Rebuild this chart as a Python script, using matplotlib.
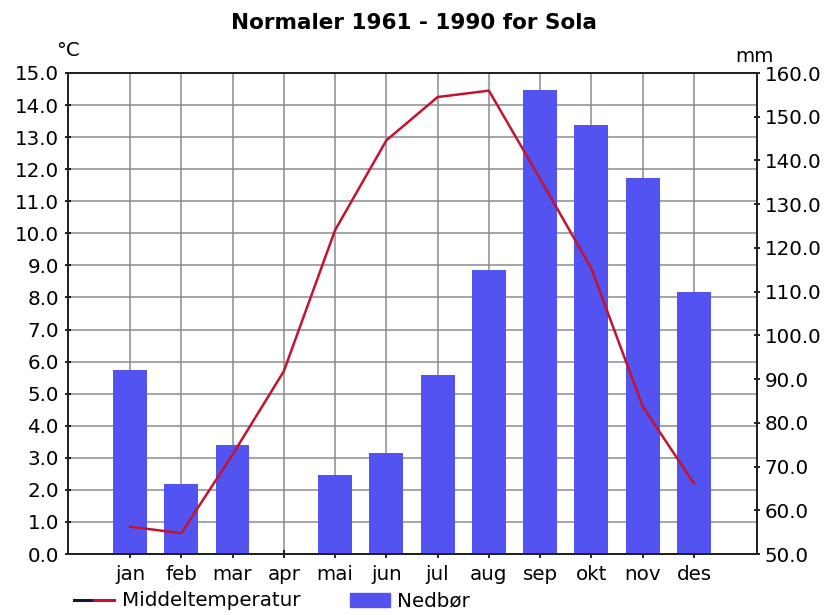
import numpy as np
import matplotlib
matplotlib.use("Agg")
import matplotlib.pyplot as plt
from matplotlib.lines import Line2D
from matplotlib.patches import Patch
from matplotlib.legend_handler import HandlerTuple

# Normaler 1961-1990, Sola
maaneder = ["jan", "feb", "mar", "apr", "mai", "jun", "jul", "aug", "sep", "okt", "nov", "des"]
temperatur = [0.85, 0.65, 3.1, 5.7, 10.1, 12.9, 14.25, 14.45, 11.7, 8.9, 4.6, 2.2]  # °C
nedbor = [92, 66, 75, 49, 68, 73, 91, 115, 156, 148, 136, 110]  # mm

temp_ticks = np.arange(0, 16, 1)
mm_ticks = np.arange(50, 161, 10)

plt.rcParams['font.family'] = 'DejaVu Sans'
fs = 14.3
bar_color = '#5253f0'
line_color = '#c2142e'
grid_color = '#8c8c8c'

fig = plt.figure(figsize=(8.28, 6.15), dpi=100)
ax = fig.add_axes([68 / 828, 61 / 615, 689 / 828, 481 / 615])
x = np.arange(len(maaneder))

# venstre akse: temperatur + rutenett
ax.set_xlim(-1.21, 12.23)
ax.set_ylim(0, 15)
ax.set_yticks(temp_ticks)
ax.set_yticklabels([f"{v:.1f}" for v in temp_ticks])
ax.set_xticks(x)
ax.set_xticklabels(maaneder)
ax.grid(True, color=grid_color, lw=1.1)
ax.set_axisbelow(True)
ax.tick_params(axis='y', direction='inout', length=5, width=1.2, pad=4, labelsize=fs)
ax.tick_params(axis='x', direction='inout', length=6, width=1.2, pad=5, labelsize=fs)

# høyre akse: nedbør
ax2 = ax.twinx()
ax2.bar(x, nedbor, width=0.66, color=bar_color, zorder=2)
ax2.set_ylim(50, 160)
ax2.set_yticks(mm_ticks)
ax2.set_yticklabels([f"{v:.1f}" for v in mm_ticks])
ax2.tick_params(axis='y', direction='inout', length=5, width=1.2, pad=3, labelsize=fs)

# temperaturlinje over søylene
ax3 = ax.twinx()
ax3.plot(x, temperatur, color=line_color, lw=1.8)
ax3.set_ylim(0, 15)
ax3.set_yticks([])
for a in (ax, ax2, ax3):
    for s in a.spines.values():
        s.set_linewidth(1.4)
        s.set_color('#222222')

fig.text(414 / 828, 1 - 23 / 615, "Normaler 1961 - 1990 for Sola", ha='center', va='center',
         fontsize=15.5, fontweight='bold')
fig.text(68 / 828, 1 - 50 / 615, "°C", ha='center', va='center', fontsize=fs)
fig.text(755 / 828, 1 - 57 / 615, "mm", ha='center', va='center', fontsize=fs)

h_line = (Line2D([], [], color='#14144a', lw=2.2), Line2D([], [], color=line_color, lw=2.2))
h_bar = Patch(facecolor=bar_color, edgecolor=bar_color)
fig.legend([h_line, h_bar], ["Middeltemperatur", "Nedbør"],
           handler_map={tuple: HandlerTuple(ndivide=None, pad=0)},
           loc='center left', bbox_to_anchor=(74 / 828, 1 - 601 / 615), frameon=False, ncol=2,
           fontsize=fs, handlelength=2.0, handletextpad=0.4, columnspacing=2.5,
           borderaxespad=0, borderpad=0)

fig.savefig("out.png", dpi=100)
